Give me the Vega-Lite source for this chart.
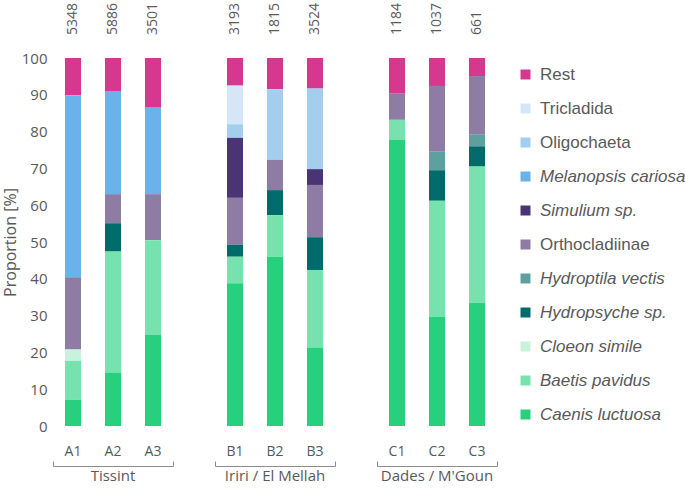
{
  "$schema": "https://vega.github.io/schema/vega-lite/v6.json",
  "padding": {"left": 2, "top": 2, "right": 0, "bottom": 0},
  "datasets": {
    "d": [
      {"g": "Tissint", "site": "A1", "n": 5348, "taxon": "Rest", "p": 10.1},
      {"g": "Tissint", "site": "A1", "n": 5348, "taxon": "Melanopsis cariosa", "p": 49.5},
      {"g": "Tissint", "site": "A1", "n": 5348, "taxon": "Orthocladiinae", "p": 19.6},
      {"g": "Tissint", "site": "A1", "n": 5348, "taxon": "Cloeon simile", "p": 3.1},
      {"g": "Tissint", "site": "A1", "n": 5348, "taxon": "Baetis pavidus", "p": 10.6},
      {"g": "Tissint", "site": "A1", "n": 5348, "taxon": "Caenis luctuosa", "p": 7.1},
      {"g": "Tissint", "site": "A2", "n": 5886, "taxon": "Rest", "p": 9.0},
      {"g": "Tissint", "site": "A2", "n": 5886, "taxon": "Melanopsis cariosa", "p": 28.0},
      {"g": "Tissint", "site": "A2", "n": 5886, "taxon": "Orthocladiinae", "p": 7.9},
      {"g": "Tissint", "site": "A2", "n": 5886, "taxon": "Hydropsyche sp.", "p": 7.7},
      {"g": "Tissint", "site": "A2", "n": 5886, "taxon": "Baetis pavidus", "p": 32.9},
      {"g": "Tissint", "site": "A2", "n": 5886, "taxon": "Caenis luctuosa", "p": 14.5},
      {"g": "Tissint", "site": "A3", "n": 3501, "taxon": "Rest", "p": 13.5},
      {"g": "Tissint", "site": "A3", "n": 3501, "taxon": "Melanopsis cariosa", "p": 23.5},
      {"g": "Tissint", "site": "A3", "n": 3501, "taxon": "Orthocladiinae", "p": 12.5},
      {"g": "Tissint", "site": "A3", "n": 3501, "taxon": "Baetis pavidus", "p": 25.8},
      {"g": "Tissint", "site": "A3", "n": 3501, "taxon": "Caenis luctuosa", "p": 24.7},
      {"g": "Iriri / El Mellah", "site": "B1", "n": 3193, "taxon": "Rest", "p": 7.5},
      {"g": "Iriri / El Mellah", "site": "B1", "n": 3193, "taxon": "Tricladida", "p": 10.5},
      {"g": "Iriri / El Mellah", "site": "B1", "n": 3193, "taxon": "Oligochaeta", "p": 3.7},
      {"g": "Iriri / El Mellah", "site": "B1", "n": 3193, "taxon": "Simulium sp.", "p": 16.3},
      {"g": "Iriri / El Mellah", "site": "B1", "n": 3193, "taxon": "Orthocladiinae", "p": 12.7},
      {"g": "Iriri / El Mellah", "site": "B1", "n": 3193, "taxon": "Hydropsyche sp.", "p": 3.3},
      {"g": "Iriri / El Mellah", "site": "B1", "n": 3193, "taxon": "Baetis pavidus", "p": 7.2},
      {"g": "Iriri / El Mellah", "site": "B1", "n": 3193, "taxon": "Caenis luctuosa", "p": 38.8},
      {"g": "Iriri / El Mellah", "site": "B2", "n": 1815, "taxon": "Rest", "p": 8.5},
      {"g": "Iriri / El Mellah", "site": "B2", "n": 1815, "taxon": "Oligochaeta", "p": 19.2},
      {"g": "Iriri / El Mellah", "site": "B2", "n": 1815, "taxon": "Orthocladiinae", "p": 8.2},
      {"g": "Iriri / El Mellah", "site": "B2", "n": 1815, "taxon": "Hydropsyche sp.", "p": 6.8},
      {"g": "Iriri / El Mellah", "site": "B2", "n": 1815, "taxon": "Baetis pavidus", "p": 11.3},
      {"g": "Iriri / El Mellah", "site": "B2", "n": 1815, "taxon": "Caenis luctuosa", "p": 46.0},
      {"g": "Iriri / El Mellah", "site": "B3", "n": 3524, "taxon": "Rest", "p": 8.3},
      {"g": "Iriri / El Mellah", "site": "B3", "n": 3524, "taxon": "Oligochaeta", "p": 21.9},
      {"g": "Iriri / El Mellah", "site": "B3", "n": 3524, "taxon": "Simulium sp.", "p": 4.3},
      {"g": "Iriri / El Mellah", "site": "B3", "n": 3524, "taxon": "Orthocladiinae", "p": 14.2},
      {"g": "Iriri / El Mellah", "site": "B3", "n": 3524, "taxon": "Hydropsyche sp.", "p": 8.9},
      {"g": "Iriri / El Mellah", "site": "B3", "n": 3524, "taxon": "Baetis pavidus", "p": 21.1},
      {"g": "Iriri / El Mellah", "site": "B3", "n": 3524, "taxon": "Caenis luctuosa", "p": 21.3},
      {"g": "Dades / M'Goun", "site": "C1", "n": 1184, "taxon": "Rest", "p": 9.7},
      {"g": "Dades / M'Goun", "site": "C1", "n": 1184, "taxon": "Orthocladiinae", "p": 7.1},
      {"g": "Dades / M'Goun", "site": "C1", "n": 1184, "taxon": "Baetis pavidus", "p": 5.5},
      {"g": "Dades / M'Goun", "site": "C1", "n": 1184, "taxon": "Caenis luctuosa", "p": 77.7},
      {"g": "Dades / M'Goun", "site": "C2", "n": 1037, "taxon": "Rest", "p": 7.6},
      {"g": "Dades / M'Goun", "site": "C2", "n": 1037, "taxon": "Orthocladiinae", "p": 17.9},
      {"g": "Dades / M'Goun", "site": "C2", "n": 1037, "taxon": "Hydroptila vectis", "p": 5.0},
      {"g": "Dades / M'Goun", "site": "C2", "n": 1037, "taxon": "Hydropsyche sp.", "p": 8.3},
      {"g": "Dades / M'Goun", "site": "C2", "n": 1037, "taxon": "Baetis pavidus", "p": 31.5},
      {"g": "Dades / M'Goun", "site": "C2", "n": 1037, "taxon": "Caenis luctuosa", "p": 29.7},
      {"g": "Dades / M'Goun", "site": "C3", "n": 661, "taxon": "Rest", "p": 4.9},
      {"g": "Dades / M'Goun", "site": "C3", "n": 661, "taxon": "Orthocladiinae", "p": 15.8},
      {"g": "Dades / M'Goun", "site": "C3", "n": 661, "taxon": "Hydroptila vectis", "p": 3.3},
      {"g": "Dades / M'Goun", "site": "C3", "n": 661, "taxon": "Hydropsyche sp.", "p": 5.5},
      {"g": "Dades / M'Goun", "site": "C3", "n": 661, "taxon": "Baetis pavidus", "p": 37.0},
      {"g": "Dades / M'Goun", "site": "C3", "n": 661, "taxon": "Caenis luctuosa", "p": 33.5}
    ]
  },
  "data": {"name": "d"},
  "transform": [
    {"calculate": "indexof(['Rest','Tricladida','Oligochaeta','Melanopsis cariosa','Simulium sp.','Orthocladiinae','Hydroptila vectis','Hydropsyche sp.','Cloeon simile','Baetis pavidus','Caenis luctuosa'], datum.taxon)", "as": "k"}
  ],
  "facet": {
    "column": {
      "field": "g", "type": "nominal",
      "sort": ["Tissint", "Iriri / El Mellah", "Dades / M'Goun"],
      "title": null,
      "header": {"labelOrient": "bottom", "labelFont": "Open Sans", "labelFontSize": 15, "labelColor": "#595959", "labelPadding": 2}
    }
  },
  "spacing": {"column": 40},
  "resolve": {"scale": {"x": "independent"}},
  "spec": {
    "width": 120,
    "height": 368,
    "layer": [
      {
        "mark": {"type": "bar"},
        "encoding": {
          "x": {
            "field": "site", "type": "nominal",
            "scale": {"paddingInner": 0.6, "paddingOuter": 0.3},
            "axis": {"title": null, "domain": false, "ticks": false, "labelAngle": 0, "labelPadding": 18, "labelFontSize": 14}
          },
          "y": {
            "field": "p", "type": "quantitative", "stack": "zero",
            "scale": {"domain": [0, 100]},
            "axis": {"title": "Proportion [%]", "values": [0, 10, 20, 30, 40, 50, 60, 70, 80, 90, 100], "labelOverlap": false, "domain": false, "ticks": false, "labelPadding": 5, "labelFontSize": 15, "titleFontSize": 16, "titlePadding": 3}
          },
          "color": {
            "field": "taxon", "type": "nominal",
            "scale": {
              "domain": ["Rest", "Tricladida", "Oligochaeta", "Melanopsis cariosa", "Simulium sp.", "Orthocladiinae", "Hydroptila vectis", "Hydropsyche sp.", "Cloeon simile", "Baetis pavidus", "Caenis luctuosa"],
              "range": ["#D6388F", "#D5E7F7", "#A3CEEE", "#6AB2E7", "#4B3476", "#8E7CA4", "#5FA09F", "#006B6A", "#C7F3DC", "#78E2AE", "#27D07D"]
            },
            "legend": {
              "title": null, "orient": "none", "legendX": 464, "legendY": 8,
              "symbolType": "square", "symbolSize": 100, "symbolStrokeWidth": 0,
              "labelFont": "Liberation Sans", "labelFontSize": 17, "labelColor": "#595959",
              "labelOffset": 6, "rowPadding": 16, "padding": 0, "labelLimit": 200,
              "labelFontStyle": {"expr": "indexof(['Melanopsis cariosa','Simulium sp.','Hydroptila vectis','Hydropsyche sp.','Cloeon simile','Baetis pavidus','Caenis luctuosa'], datum.label) >= 0 ? 'italic' : 'normal'"}
            }
          },
          "order": {"field": "k", "type": "quantitative", "sort": "descending"}
        }
      },
      {
        "transform": [{"filter": "datum.taxon === 'Rest'"}],
        "mark": {"type": "text", "angle": 270, "align": "left", "baseline": "middle", "dx": 23, "fontSize": 14, "font": "Open Sans", "color": "#595959"},
        "encoding": {
          "x": {"field": "site", "type": "nominal", "scale": {"paddingInner": 0.6, "paddingOuter": 0.3}, "axis": null},
          "y": {"datum": 100, "type": "quantitative", "axis": {"title": "Proportion [%]", "values": [0, 10, 20, 30, 40, 50, 60, 70, 80, 90, 100], "labelOverlap": false, "domain": false, "ticks": false, "labelPadding": 5, "labelFontSize": 15, "titleFontSize": 16, "titlePadding": 3}},
          "text": {"field": "n", "type": "nominal"}
        }
      },
      {
        "transform": [{"filter": "datum.taxon === 'Rest'"}],
        "mark": {"type": "rule", "opacity": 0},
        "encoding": {
          "x": {
            "datum": 0, "type": "quantitative",
            "scale": {"domain": [0, 1], "nice": false, "zero": false},
            "axis": {"orient": "bottom", "offset": 40, "values": [0, 1], "labels": false, "title": null, "grid": false, "domain": true, "domainColor": "#8c8c8c", "domainWidth": 1, "ticks": true, "tickColor": "#8c8c8c", "tickWidth": 1, "tickSize": -5}
          }
        }
      }
    ],
    "resolve": {"scale": {"x": "independent"}}
  },
  "config": {
    "view": {"stroke": null},
    "axis": {"labelFont": "Open Sans", "titleFont": "Open Sans", "labelColor": "#595959", "titleColor": "#595959", "titleFontWeight": "normal", "grid": false}
  }
}
